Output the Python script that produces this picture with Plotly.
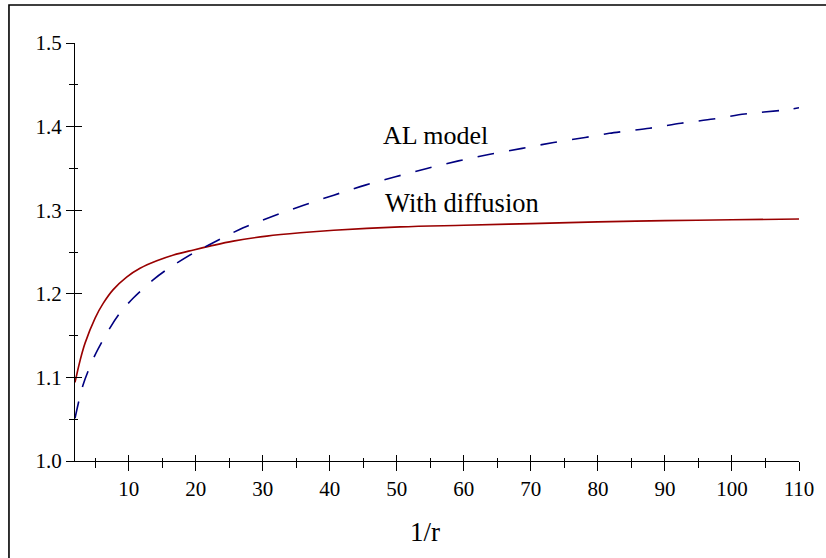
import plotly.graph_objects as go

# ---- data ----
diff_x = [2, 2.75, 3.5, 5, 6.2, 7.7, 9.7, 11.7, 14.2, 16.7, 19.7, 22.1, 25.6, 30.6,
          35.6, 40.6, 50.5, 60, 70, 80, 90, 100, 110]
diff_y = [1.094, 1.120, 1.141, 1.171, 1.1885, 1.2050, 1.2200, 1.2305, 1.2395, 1.2465, 1.2525,
          1.257, 1.263, 1.269, 1.273, 1.276, 1.280, 1.282, 1.284, 1.286, 1.2875, 1.2885, 1.2895]

al_x = [2, 3.2, 5, 7.2, 8.7, 10.7, 13.7, 15.7, 19.7, 22.1, 27.1, 31.6, 36.1, 40.6, 45.3,
        49.8, 54.5, 59.2, 63.9, 68.7, 73.4, 78.1, 81.7, 87.7, 92.4, 97.2, 101.9, 108, 110]
al_y = [1.051, 1.091, 1.127, 1.159, 1.177, 1.195, 1.217, 1.229, 1.249, 1.259, 1.279, 1.293,
        1.306, 1.318, 1.330, 1.340, 1.350, 1.359, 1.367, 1.374, 1.381, 1.387, 1.392, 1.398,
        1.404, 1.409, 1.415, 1.420, 1.4225]

x_range = [2, 110]
y_range = [1.0, 1.5]
x_ticks = [10, 20, 30, 40, 50, 60, 70, 80, 90, 100, 110]
y_ticks = [1.0, 1.1, 1.2, 1.3, 1.4, 1.5]
y_tick_text = ["1.0", "1.1", "1.2", "1.3", "1.4", "1.5"]

label_al = "AL model"
label_diff = "With diffusion"
x_title = "1/r"

SERIF = "Liberation Serif, Times New Roman, serif"

fig = go.Figure()
fig.add_trace(go.Scatter(x=diff_x, y=diff_y, mode="lines",
                         line=dict(color="#990000", width=1.6, shape="spline", smoothing=1.0),
                         showlegend=False, hoverinfo="skip"))
fig.add_trace(go.Scatter(x=al_x, y=al_y, mode="lines", xaxis="x2", yaxis="y2",
                         line=dict(color="#000080", width=1.6, dash="17px,15px", shape="spline", smoothing=0.8),
                         showlegend=False, hoverinfo="skip"))

common_x = dict(range=x_range, showgrid=False, zeroline=False)
common_y = dict(range=y_range, showgrid=False, zeroline=False)

fig.update_layout(
    width=826, height=558,
    margin=dict(l=75, r=27, t=43, b=97, pad=0),
    paper_bgcolor="white", plot_bgcolor="white",
    xaxis=dict(**common_x, showline=True, linecolor="black", linewidth=1.3,
               tickmode="array", tickvals=x_ticks, ticktext=[str(v) for v in x_ticks],
               ticks="outside", ticklen=9, tickwidth=1.3, tickcolor="black",
               minor=dict(dtick=5, tick0=0, ticks="outside", ticklen=6, tickwidth=1.3, tickcolor="black"),
               tickfont=dict(family=SERIF, size=21, color="black")),
    yaxis=dict(**common_y, showline=True, linecolor="black", linewidth=1.3,
               tickmode="array", tickvals=y_ticks, ticktext=y_tick_text,
               ticks="outside", ticklen=8, tickwidth=1.3, tickcolor="black",
               minor=dict(dtick=0.05, tick0=1.0, ticks="outside", ticklen=5, tickwidth=1.3, tickcolor="black"),
               tickfont=dict(family=SERIF, size=21, color="black")),
    xaxis2=dict(**common_x, overlaying="x", anchor="y2", side="bottom", showline=False,
                tickmode="array", tickvals=x_ticks, showticklabels=False,
                ticks="inside", ticklen=6, tickwidth=1.3, tickcolor="black",
                minor=dict(dtick=5, tick0=0, ticks="inside", ticklen=3, tickwidth=1.3, tickcolor="black")),
    yaxis2=dict(**common_y, overlaying="y", anchor="x2", side="left", showline=False,
                tickmode="array", tickvals=y_ticks, showticklabels=False,
                ticks="inside", ticklen=7, tickwidth=1.3, tickcolor="black",
                minor=dict(dtick=0.05, tick0=1.0, ticks="inside", ticklen=3, tickwidth=1.3, tickcolor="black")),
    annotations=[
        dict(x=55.8, y=1.389, xref="x", yref="y", text=label_al, showarrow=False,
             font=dict(family=SERIF, size=26, color="black"), xanchor="center", yanchor="middle"),
        dict(x=59.8, y=1.309, xref="x", yref="y", text=label_diff, showarrow=False,
             font=dict(family=SERIF, size=26.5, color="black"), xanchor="center", yanchor="middle"),
        dict(x=0.4834, y=-0.170, xref="paper", yref="paper", text=x_title, showarrow=False,
             font=dict(family=SERIF, size=27, color="black"), xanchor="center", yanchor="middle"),
    ],
    shapes=[
        dict(type="rect", xref="paper", yref="paper", x0=-0.0912, y0=-0.30, x1=1.06, y1=1.0909,
             line=dict(color="black", width=1.6), fillcolor="rgba(0,0,0,0)", layer="below"),
    ],
)

fig.write_html("out.html")
